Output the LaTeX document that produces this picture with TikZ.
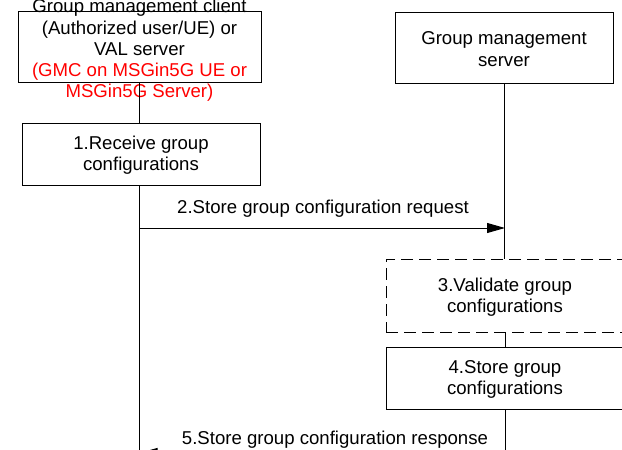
\documentclass[tikz,border=0pt]{standalone}
\usepackage{fontspec}
\setmainfont{Liberation Sans}
\usetikzlibrary{arrows.meta}
\begin{document}
\begin{tikzpicture}[x=1pt,y=-1pt,
  every node/.style={font=\fontsize{18.6}{21.3}\selectfont, align=center, inner sep=0pt},
  box/.style={draw, line width=1pt},
  dbox/.style={draw, line width=1pt, dash pattern=on 12pt off 6pt},
  life/.style={line width=1pt},
  msg/.style={line width=1pt, -{Triangle[length=18pt,width=10pt]}}]
\useasboundingbox (0,0) rectangle (622,450);
\clip (0,0) rectangle (622,450);
% participants
\node[box, minimum width=243pt, minimum height=71pt] (client) at (139.5,46.5) {};
\node (clienttext) at (139.5,50.5) {Group management client\\(Authorized user/UE) or\\VAL server\\\textcolor{red}{(GMC on MSGin5G UE or}\\\textcolor{red}{MSGin5G Server)}};
\node[box, minimum width=218pt, minimum height=71pt] (server) at (504,47.5) {};
\node (servertext) at (504,49) {Group management\\server};
% steps
\node[box, minimum width=238pt, minimum height=62pt] (step1) at (141,154) {};
\node (step1text) at (141,155.5) {1.Receive group\\configurations};
\node[dbox, minimum width=238pt, minimum height=73pt] (step3) at (505,295.5) {};
\node (step3text) at (505,297) {3.Validate group\\configurations};
\node[box, minimum width=238pt, minimum height=62pt] (step4) at (505,378) {};
\node (step4text) at (505,379.5) {4.Store group\\configurations};
% lifelines
\coordinate (lend) at (139.5,470);
\coordinate (rend) at (505,470);
\draw[life] (client.south) -- (client.south |- step1.north);
\draw[life] (client.south |- step1.south) -- (lend);
\draw[life] (server.south) -- (server.south |- step3.north);
\draw[life] (step3.south) -- (step4.north);
\draw[life] (step4.south) -- (rend);
% messages
\coordinate (m2s) at (139.5,228);
\coordinate (m2e) at (505,228);
\draw[msg] (m2s) -- (m2e);
\node (l2) at (323,209) {2.Store group configuration request};
\coordinate (m5s) at (505,453);
\coordinate (m5e) at (139.5,453);
\draw[msg] (m5s) -- (m5e);
\node (l5) at (335,440) {5.Store group configuration response};
\end{tikzpicture}
\end{document}
